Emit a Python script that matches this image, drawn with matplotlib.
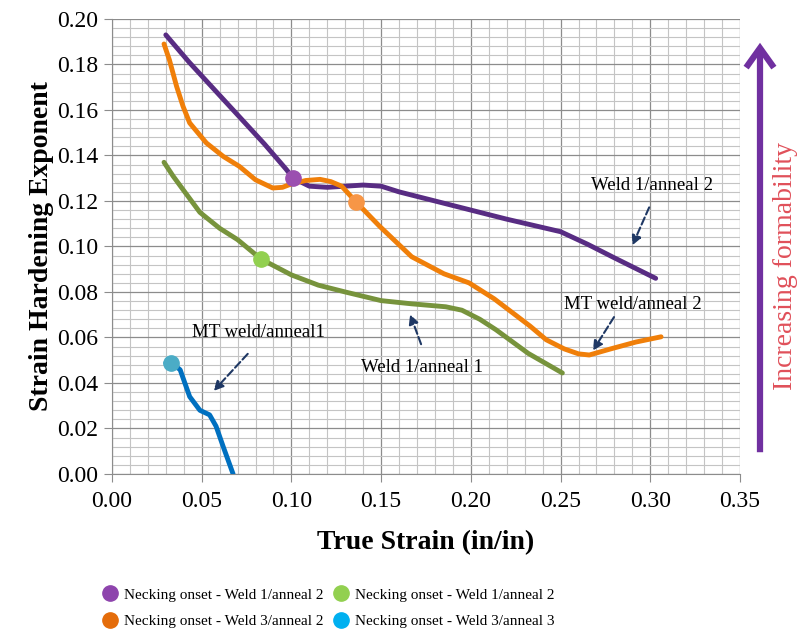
import matplotlib
matplotlib.use('Agg')
import matplotlib.pyplot as plt
from matplotlib.lines import Line2D
from matplotlib.ticker import MultipleLocator

plt.rcParams['font.family'] = ['Liberation Serif', 'DejaVu Serif']

# curves (true strain, n)
weld1_a2_x = [0.030, 0.043, 0.057, 0.071, 0.085, 0.097, 0.101, 0.110, 0.120, 0.130, 0.140,
              0.150, 0.160, 0.180, 0.200, 0.220, 0.250, 0.265, 0.280, 0.303]
weld1_a2_y = [0.193, 0.181, 0.169, 0.157, 0.145, 0.134, 0.130, 0.1265, 0.126, 0.1265, 0.127,
              0.1265, 0.124, 0.120, 0.116, 0.112, 0.1065, 0.101, 0.095, 0.086]

weld3_a2_x = [0.029, 0.032, 0.036, 0.0396, 0.0433, 0.0526, 0.062, 0.071, 0.080, 0.0896, 0.095,
              0.100, 0.108, 0.116, 0.122, 0.128, 0.136, 0.149, 0.167, 0.185, 0.199, 0.213,
              0.223, 0.233, 0.242, 0.252, 0.260, 0.266, 0.278, 0.292, 0.306]
weld3_a2_y = [0.189, 0.182, 0.1704, 0.1616, 0.1543, 0.1455, 0.1396, 0.1352, 0.1293, 0.1257, 0.126,
              0.1275, 0.129, 0.1295, 0.1285, 0.1265, 0.1196, 0.109, 0.0955, 0.088, 0.084, 0.077,
              0.071, 0.065, 0.059, 0.055, 0.0528, 0.0523, 0.055, 0.058, 0.0603]

weld1_a1_x = [0.029, 0.034, 0.0396, 0.049, 0.060, 0.070, 0.083, 0.100, 0.115, 0.130, 0.150,
              0.167, 0.186, 0.195, 0.205, 0.214, 0.232, 0.251]
weld1_a1_y = [0.137, 0.131, 0.125, 0.115, 0.108, 0.103, 0.0945, 0.0875, 0.083, 0.080, 0.0762,
              0.0748, 0.0735, 0.072, 0.068, 0.0634, 0.053, 0.0444]

mt_a1_x = [0.030, 0.033, 0.038, 0.0433, 0.049, 0.0544, 0.058, 0.062, 0.0675]
mt_a1_y = [0.0488, 0.049, 0.0458, 0.034, 0.028, 0.026, 0.021, 0.012, 0.000]

# necking onset points
onset_x = [0.101, 0.136, 0.083, 0.033]
onset_y = [0.130, 0.1196, 0.0945, 0.049]
onset_colors = ['#9B4FB0', '#F79646', '#92D050', '#4BACC6']
legend_colors = ['#8E44AD', '#E46C0A', '#92D050', '#00B0F0']
legend_labels = ['Necking onset - Weld 1/anneal 2', 'Necking onset - Weld 3/anneal 2',
                 'Necking onset - Weld 1/anneal 2', 'Necking onset - Weld 3/anneal 3']

fig = plt.figure(figsize=(7.97, 6.32), dpi=100)
ax = fig.add_axes([0.1405, 0.25, 0.788, 0.72])

line_kw = dict(lw=3.5, solid_capstyle='round', solid_joinstyle='round', zorder=3)
ax.plot(weld1_a2_x, weld1_a2_y, color='#582C83', **line_kw)
ax.plot(weld3_a2_x, weld3_a2_y, color='#F07F09', **line_kw)
ax.plot(weld1_a1_x, weld1_a1_y, color='#77933C', **line_kw)
ax.plot(mt_a1_x, mt_a1_y, color='#0070C0', **line_kw)
for x, y, c in zip(onset_x, onset_y, onset_colors):
    ax.plot(x, y, 'o', color=c, markersize=11, zorder=4)

ax.set_xlim(0, 0.35)
ax.set_ylim(0, 0.20)
ax.xaxis.set_major_locator(MultipleLocator(0.05))
ax.xaxis.set_minor_locator(MultipleLocator(0.01))
ax.yaxis.set_major_locator(MultipleLocator(0.02))
ax.yaxis.set_minor_locator(MultipleLocator(0.004))
ax.xaxis.set_major_formatter(matplotlib.ticker.FormatStrFormatter('%.2f'))
ax.yaxis.set_major_formatter(matplotlib.ticker.FormatStrFormatter('%.2f'))
ax.grid(True, which='major', color='#8c8c8c', lw=0.9)
ax.grid(True, which='minor', color='#c4c4c4', lw=0.8)
ax.set_axisbelow(True)
for s in ['top', 'right']:
    ax.spines[s].set_visible(False)
for s in ['left', 'bottom']:
    ax.spines[s].set_color('#8c8c8c')
ax.tick_params(which='major', length=6, color='#8c8c8c', labelsize=17, pad=6)
ax.tick_params(axis='y', pad=4)
ax.tick_params(which='minor', length=0)

ax.set_xlabel('True Strain (in/in)', fontsize=20, fontweight='bold', labelpad=13)
ax.set_ylabel('Strain Hardening Exponent', fontsize=20, fontweight='bold', labelpad=2)

# annotations
arr = dict(arrowstyle='-|>', color='#1F3864', lw=1.5, ls='--', mutation_scale=14)
ax.text(0.2667, 0.127, 'Weld 1/anneal 2', fontsize=13.5, va='center')
ax.annotate('', xy=(0.2894, 0.0994), xytext=(0.300, 0.1183), arrowprops=arr)
ax.text(0.2517, 0.0743, 'MT weld/anneal 2', fontsize=13.5, va='center')
ax.annotate('', xy=(0.2672, 0.0532), xytext=(0.2806, 0.070), arrowprops=arr)
ax.text(0.139, 0.0466, 'Weld 1/anneal 1', fontsize=13.5, va='center')
ax.annotate('', xy=(0.1656, 0.0713), xytext=(0.1728, 0.0559), arrowprops=arr)
ax.text(0.0444, 0.062, 'MT weld/anneal1', fontsize=13.5, va='center')
ax.annotate('', xy=(0.0556, 0.0356), xytext=(0.0767, 0.0537), arrowprops=arr)

# formability arrow on the right
fig.patches.append(matplotlib.patches.FancyArrowPatch(
    (760 / 797, 1 - 455 / 632), (760 / 797, 1 - 40 / 632), transform=fig.transFigure,
    arrowstyle='->,head_length=0.7,head_width=0.5', color='#7030A0', lw=4.5,
    mutation_scale=20, capstyle='butt', joinstyle='miter'))
fig.text(786 / 797, 1 - 266 / 632, 'Increasing formability', rotation=90, color='#E0505A',
         fontsize=20, ha='center', va='center')

handles = [Line2D([], [], marker='o', ls='', color=c, markersize=11) for c in legend_colors]
fig.legend(handles, legend_labels, ncol=2, frameon=False, fontsize=11,
           loc='lower left', bbox_to_anchor=(0.107, -0.016), handletextpad=0.15,
           handlelength=1.5, columnspacing=0.4, labelspacing=0.85)

fig.savefig('out.png', dpi=100)
